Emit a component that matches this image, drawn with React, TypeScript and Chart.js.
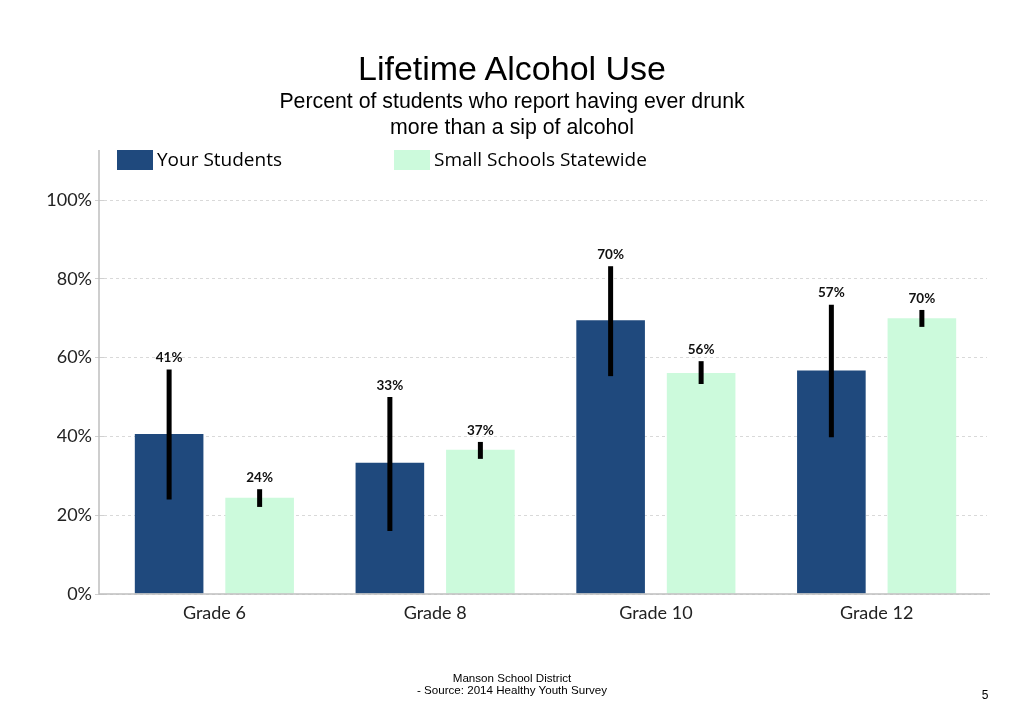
import React, { useEffect, useRef } from 'react';
import { Chart, registerables } from 'chart.js';

Chart.register(...registerables);

const categories = ['Grade 6', 'Grade 8', 'Grade 10', 'Grade 12'];
const yourStudents = [40.6, 33.3, 69.5, 56.7];
const yourLow = [24.0, 16.0, 55.3, 39.8];
const yourHigh = [57.0, 50.0, 83.2, 73.4];
const statewide = [24.4, 36.6, 56.1, 70.0];
const stateLow = [22.1, 34.3, 53.3, 67.8];
const stateHigh = [26.6, 38.6, 59.1, 72.1];
const yTicks = [0, 20, 40, 60, 80, 100];
const seriesNames = ['Your Students', 'Small Schools Statewide'];
const seriesColors = ['#1F497D', '#CCFADC'];

const AXIS_GAP = 5;

const axisPlugin = {
  id: 'axisLines',
  afterDraw(chart: any) {
    const ctx = chart.ctx;
    const area = chart.chartArea;
    const x0 = area.left - AXIS_GAP;
    ctx.save();
    ctx.strokeStyle = '#BFBFBF';
    ctx.lineWidth = 1.5;
    ctx.beginPath();
    ctx.moveTo(x0, area.top);
    ctx.lineTo(x0, area.bottom);
    ctx.lineTo(area.right + 3, area.bottom);
    ctx.stroke();
    ctx.restore();
  },
};

const errorBarPlugin = {
  id: 'errorBars',
  afterDatasetsDraw(chart: any) {
    const ctx = chart.ctx;
    const y = chart.scales.y;
    chart.data.datasets.forEach((ds: any, i: number) => {
      const meta = chart.getDatasetMeta(i);
      meta.data.forEach((bar: any, j: number) => {
        const top = y.getPixelForValue(ds.errHigh[j]);
        const bot = y.getPixelForValue(ds.errLow[j]);
        ctx.save();
        ctx.strokeStyle = '#000';
        ctx.lineWidth = 5;
        ctx.beginPath();
        ctx.moveTo(bar.x, top);
        ctx.lineTo(bar.x, bot);
        ctx.stroke();
        ctx.fillStyle = '#111';
        ctx.font = 'bold 13.5px Lato';
        ctx.textAlign = 'center';
        ctx.textBaseline = 'bottom';
        ctx.fillText(Math.round(ds.data[j]) + '%', bar.x, top - 5);
        ctx.restore();
      });
    });
  },
};

const legendPlugin = {
  id: 'customLegend',
  afterDraw(chart: any) {
    const ctx = chart.ctx;
    const area = chart.chartArea;
    const x0 = area.left - AXIS_GAP;
    const offsets = [18, 295];
    chart.data.datasets.forEach((ds: any, i: number) => {
      const x = x0 + offsets[i];
      const yTop = area.top;
      ctx.save();
      ctx.fillStyle = ds.backgroundColor;
      ctx.fillRect(x, yTop, 36, 20);
      ctx.fillStyle = '#000';
      ctx.font = '19px "Open Sans"';
      ctx.textAlign = 'left';
      ctx.textBaseline = 'middle';
      ctx.fillText(ds.label, x + 40, yTop + 11);
      ctx.restore();
    });
  },
};

function BarChart() {
  const ref = useRef<HTMLCanvasElement>(null);
  useEffect(() => {
    document.body.style.margin = '0';
    const chart = new Chart(ref.current!, {
      type: 'bar',
      data: {
        labels: categories,
        datasets: [
          {
            label: seriesNames[0],
            data: yourStudents,
            backgroundColor: seriesColors[0],
            errLow: yourLow,
            errHigh: yourHigh,
            categoryPercentage: 0.82,
            barPercentage: 0.758,
          } as any,
          {
            label: seriesNames[1],
            data: statewide,
            backgroundColor: seriesColors[1],
            errLow: stateLow,
            errHigh: stateHigh,
            categoryPercentage: 0.82,
            barPercentage: 0.758,
          } as any,
        ],
      },
      options: {
        responsive: false,
        animation: false,
        layout: { padding: { left: 0, right: 37, top: 150, bottom: 0 } },
        plugins: { legend: { display: false }, tooltip: { enabled: false }, title: { display: false } },
        scales: {
          x: {
            grid: { display: false, drawTicks: false },
            border: { display: false },
            ticks: { color: '#222', font: { family: 'Lato', size: 18 }, padding: 8 },
            afterFit(scale: any) {
              scale.height = 133;
            },
          },
          y: {
            min: 0,
            max: 112.7,
            afterBuildTicks(scale: any) {
              scale.ticks = yTicks.map((v) => ({ value: v }));
            },
            afterFit(scale: any) {
              scale.width = 99 + AXIS_GAP;
            },
            grid: {
              color: '#D9D9D9',
              tickColor: '#D0D0D0',
              tickLength: 9,
              tickBorderDash: [],
              drawOnChartArea: true,
            },
            border: { display: false, dash: [3, 3] as any },
            ticks: {
              color: '#222',
              font: { family: 'Lato', size: 18 },
              padding: 3,
              callback: (v: any) => v + '%',
            },
          },
        },
      } as any,
      plugins: [errorBarPlugin, legendPlugin, axisPlugin],
    });
    return () => chart.destroy();
  }, []);
  return (
    <canvas
      ref={ref}
      width={1024}
      height={727}
      style={{ position: 'absolute', left: 0, top: 0, width: 1024, height: 727 }}
    />
  );
}

export default function App() {
  const text: React.CSSProperties = {
    position: 'absolute',
    left: 0,
    width: 1024,
    textAlign: 'center',
    fontFamily: '"Liberation Sans", Arial, sans-serif',
    color: '#000',
  };
  return (
    <div style={{ position: 'relative', width: 1024, height: 727, background: '#fff', overflow: 'hidden' }}>
      <BarChart />
      <div style={{ ...text, top: 49, fontSize: 34, lineHeight: '38px' }}>Lifetime Alcohol Use</div>
      <div style={{ ...text, top: 88, fontSize: 21.3, lineHeight: '26px' }}>
        Percent of students who report having ever drunk
        <br />
        more than a sip of alcohol
      </div>
      <div style={{ ...text, top: 672, fontSize: 11.6, lineHeight: '12px' }}>
        Manson School District
        <br />
        - Source: 2014 Healthy Youth Survey
      </div>
      <div style={{ ...text, left: 970, width: 30, top: 688, fontSize: 12, lineHeight: '14px' }}>5</div>
    </div>
  );
}
